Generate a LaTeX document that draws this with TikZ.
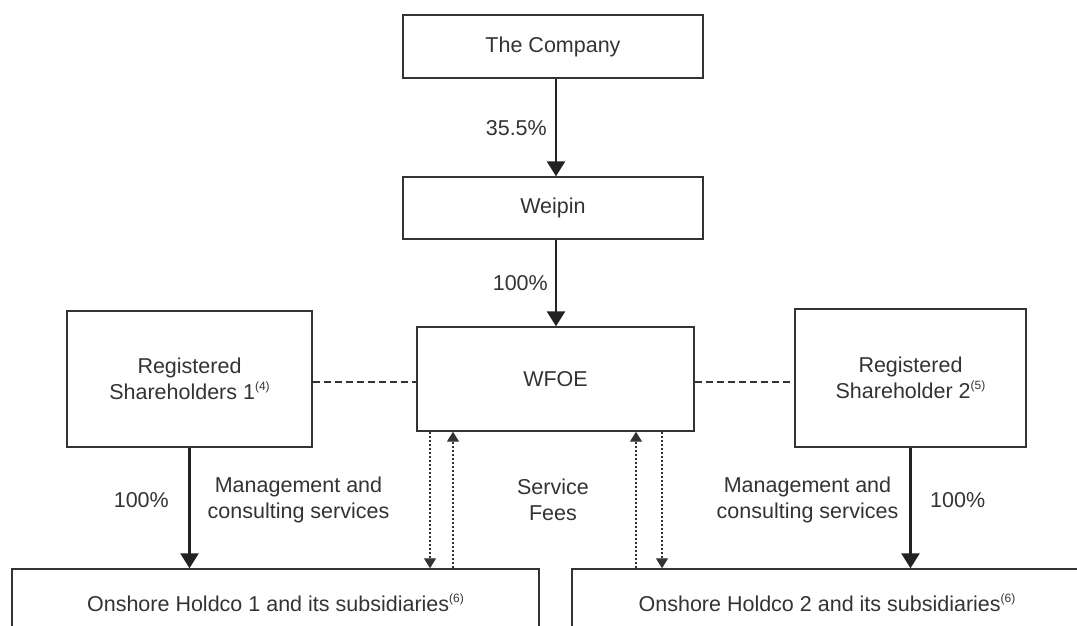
\documentclass[tikz,border=0pt]{standalone}
\usepackage{fontspec}
\setmainfont{Liberation Sans}
\usetikzlibrary{arrows.meta}
\definecolor{ink}{HTML}{333333}
\definecolor{arr}{HTML}{222222}
\newcommand\supn[1]{\raisebox{0.8ex}{\fontsize{12}{12}\selectfont(#1)}}
\begin{document}
\begin{tikzpicture}[x=1pt,y=-1pt,
  every node/.style={font=\fontsize{21.5}{26}\selectfont, text=ink, inner sep=0pt},
  box/.style={draw=ink, line width=1.4pt, rectangle},
  own/.style={draw=arr, line width=2.7pt, -{Triangle[width=18pt,length=15pt]}},
  flow/.style={draw=ink, line width=1.1pt, dash pattern=on 2pt off 2pt, -{Triangle[width=12pt,length=10pt]}},
  link/.style={draw=ink, line width=1.1pt, dash pattern=on 7pt off 4pt},
  lbl/.style={align=center}]
\useasboundingbox (0,0) rectangle (1077,626);
\clip (0,0) rectangle (1077,626);

\node[box, minimum width=300pt, minimum height=63pt] (company) at (553,46.5) {The Company};
\node[box, minimum width=300pt, minimum height=62pt] (weipin) at (553,208) {Weipin};
\node[box, minimum width=277pt, minimum height=104pt] (wfoe) at (555.5,379) {WFOE};
\node[box, minimum width=245pt, minimum height=136pt, lbl] (rs1) at (189.5,379) {Registered\\Shareholders 1\supn{4}};
\node[box, minimum width=231pt, minimum height=138pt, lbl] (rs2) at (910.5,378) {Registered\\Shareholder 2\supn{5}};
\node[box, minimum width=527pt, minimum height=68pt] (h1) at (275.5,603) {Onshore Holdco 1 and its subsidiaries\supn{6}};
\node[box, minimum width=510pt, minimum height=68pt] (h2) at (827,603) {Onshore Holdco 2 and its subsidiaries\supn{6}};

\coordinate (xa) at (556,0);
\coordinate (d1) at (430,0);
\coordinate (u1) at (453,0);
\coordinate (u2) at (636,0);
\coordinate (d2) at (662,0);

\draw[own] (company.south -| xa) -- (weipin.north -| xa);
\draw[own] (weipin.south -| xa) -- (wfoe.north -| xa);
\draw[own] (rs1.south) -- (rs1.south |- h1.north);
\draw[own] (rs2.south) -- (rs2.south |- h2.north);

\draw[link] (rs1.east |- 0,382) -- (wfoe.west |- 0,382);
\draw[link] (wfoe.east |- 0,382) -- (rs2.west |- 0,382);

\draw[flow] (wfoe.south -| d1) -- (h1.north -| d1);
\draw[flow] (h1.north -| u1) -- (wfoe.south -| u1);
\draw[flow] (h2.north -| u2) -- (wfoe.south -| u2);
\draw[flow] (wfoe.south -| d2) -- (h2.north -| d2);

\node[anchor=east] (p1) at (547,128) {35.5\%};
\node[anchor=east] (p2) at (548,283) {100\%};
\node[anchor=east] (p3) at (169,500) {100\%};
\node[anchor=west] (p4) at (930,500) {100\%};
\node[lbl] (m1) at (298.5,500) {Management and\\consulting services};
\node[lbl] (m2) at (807.5,500) {Management and\\consulting services};
\node[lbl] (sf) at (553,500) {Service\\Fees};
\end{tikzpicture}
\end{document}
